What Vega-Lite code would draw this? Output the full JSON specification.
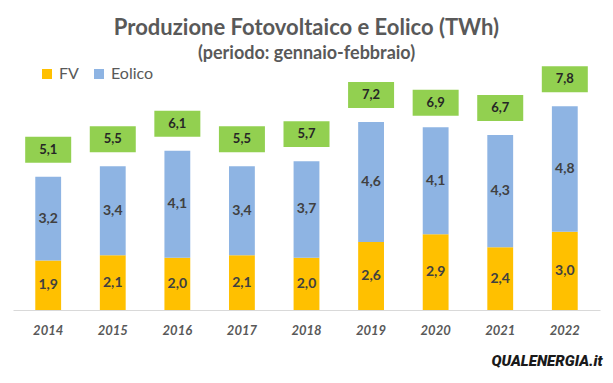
{
  "$schema": "https://vega.github.io/schema/vega-lite/v6.json",
  "width": 587,
  "height": 222,
  "autosize": {"type": "none"},
  "padding": {"left": 13, "top": 88, "right": 13, "bottom": 73},
  "background": "white",
  "config": {
    "view": {"stroke": null},
    "font": "Lato",
    "locale": {"number": {"decimal": ",", "thousands": ".", "grouping": [3], "currency": ["€", ""]}}
  },
  "title": {
    "text": "Produzione Fotovoltaico e Eolico (TWh)",
    "subtitle": "(periodo: gennaio-febbraio)",
    "font": "Lato",
    "subtitleFont": "Lato",
    "fontSize": 22,
    "fontWeight": "bold",
    "color": "#595959",
    "subtitleFontSize": 18,
    "subtitleFontWeight": "bold",
    "subtitleColor": "#595959",
    "subtitlePadding": 5,
    "offset": 2,
    "anchor": "middle"
  },
  "datasets": {
    "prod": [
      {"anno": "2014", "fonte": "FV", "valore": 1.9}, {"anno": "2014", "fonte": "Eolico", "valore": 3.2},
      {"anno": "2015", "fonte": "FV", "valore": 2.1}, {"anno": "2015", "fonte": "Eolico", "valore": 3.4},
      {"anno": "2016", "fonte": "FV", "valore": 2.0}, {"anno": "2016", "fonte": "Eolico", "valore": 4.1},
      {"anno": "2017", "fonte": "FV", "valore": 2.1}, {"anno": "2017", "fonte": "Eolico", "valore": 3.4},
      {"anno": "2018", "fonte": "FV", "valore": 2.0}, {"anno": "2018", "fonte": "Eolico", "valore": 3.7},
      {"anno": "2019", "fonte": "FV", "valore": 2.6}, {"anno": "2019", "fonte": "Eolico", "valore": 4.6},
      {"anno": "2020", "fonte": "FV", "valore": 2.9}, {"anno": "2020", "fonte": "Eolico", "valore": 4.1},
      {"anno": "2021", "fonte": "FV", "valore": 2.4}, {"anno": "2021", "fonte": "Eolico", "valore": 4.3},
      {"anno": "2022", "fonte": "FV", "valore": 3.0}, {"anno": "2022", "fonte": "Eolico", "valore": 4.8}
    ],
    "totali": [
      {"anno": "2014", "totale": 5.1}, {"anno": "2015", "totale": 5.5}, {"anno": "2016", "totale": 6.1},
      {"anno": "2017", "totale": 5.5}, {"anno": "2018", "totale": 5.7}, {"anno": "2019", "totale": 7.2},
      {"anno": "2020", "totale": 6.9}, {"anno": "2021", "totale": 6.7}, {"anno": "2022", "totale": 7.8}
    ]
  },
  "layer": [
    {
      "data": {"name": "prod"},
      "transform": [
        {"stack": "valore", "groupby": ["anno"], "sort": [{"field": "fonte", "order": "descending"}], "as": ["v0", "v1"]}
      ],
      "mark": {"type": "bar"},
      "encoding": {
        "x": {
          "field": "anno", "type": "nominal",
          "scale": {"paddingInner": 0.6, "paddingOuter": 0.345},
          "axis": {
            "title": "QUALENERGIA.it",
            "titleFont": "Roboto",
            "titleFontSize": 15,
            "titleFontWeight": 900,
            "titleFontStyle": "italic",
            "titleColor": "#1a1a1a",
            "titleAnchor": "end",
            "titleAlign": "right",
            "titleX": 589,
            "titleY": 55,
            "titleBaseline": "alphabetic",
            "labelAngle": 0,
            "labelFont": "Lato",
            "labelFontSize": 13,
            "labelFontWeight": "bold",
            "labelFontStyle": "italic",
            "labelColor": "#595959",
            "labelPadding": 14,
            "ticks": false,
            "domainColor": "#d9d9d9",
            "domainWidth": 1
          }
        },
        "y": {"field": "v0", "type": "quantitative", "scale": {"domain": [0, 8.5], "nice": false}, "axis": null},
        "y2": {"field": "v1"},
        "color": {
          "field": "fonte", "type": "nominal",
          "scale": {"domain": ["FV", "Eolico"], "range": ["#FFC000", "#8EB4E3"]},
          "legend": {
            "orient": "none",
            "legendX": 26,
            "legendY": -22,
            "direction": "horizontal",
            "title": null,
            "symbolType": "square",
            "symbolSize": 100,
            "symbolStrokeWidth": 0,
            "labelFont": "Lato",
            "labelFontSize": 16,
            "labelColor": "#595959",
            "columnPadding": 12
          }
        }
      }
    },
    {
      "data": {"name": "prod"},
      "transform": [
        {"stack": "valore", "groupby": ["anno"], "sort": [{"field": "fonte", "order": "descending"}], "as": ["v0", "v1"]},
        {"calculate": "(datum.v0 + datum.v1) / 2", "as": "vm"}
      ],
      "mark": {"type": "text", "font": "Lato", "fontSize": 14, "fontWeight": "bold", "color": "#404040", "baseline": "middle"},
      "encoding": {
        "x": {"field": "anno", "type": "nominal"},
        "y": {"field": "vm", "type": "quantitative"},
        "text": {"field": "valore", "type": "quantitative", "format": ".1f"}
      }
    },
    {
      "data": {"name": "totali"},
      "mark": {"type": "point", "shape": "M-1,-0.565L1,-0.565L1,0.565L-1,0.565Z", "size": 2116, "filled": true, "color": "#92D050", "opacity": 1, "yOffset": -27},
      "encoding": {
        "x": {"field": "anno", "type": "nominal"},
        "y": {"field": "totale", "type": "quantitative"}
      }
    },
    {
      "data": {"name": "totali"},
      "mark": {"type": "text", "font": "Lato", "fontSize": 13, "fontWeight": "bold", "color": "#262626", "baseline": "middle", "dy": -27},
      "encoding": {
        "x": {"field": "anno", "type": "nominal"},
        "y": {"field": "totale", "type": "quantitative"},
        "text": {"field": "totale", "type": "quantitative", "format": ".1f"}
      }
    }
  ]
}
